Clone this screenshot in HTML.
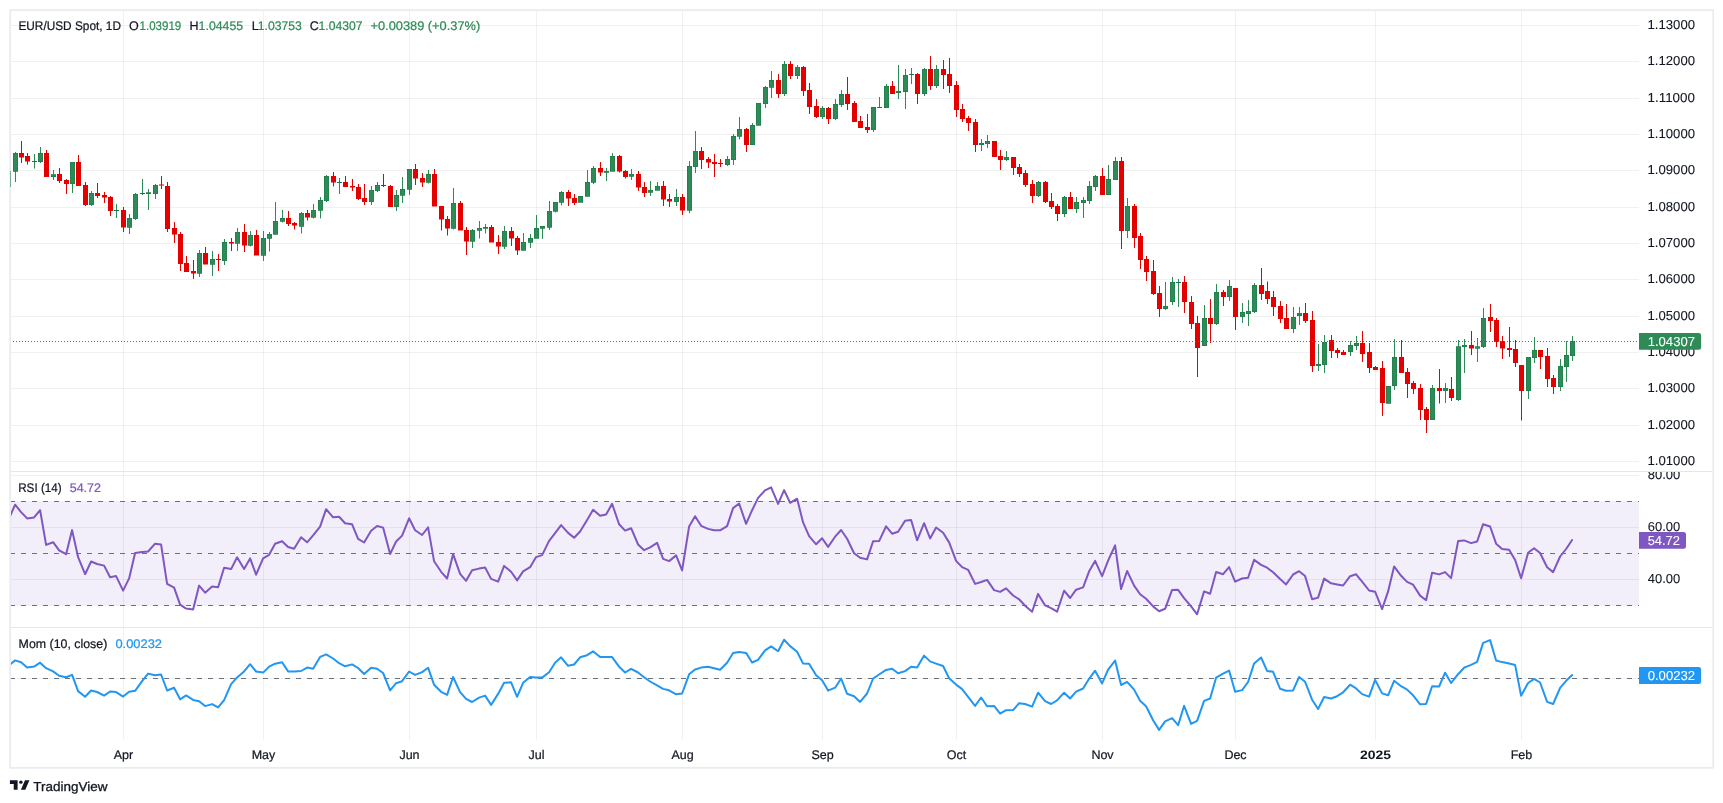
<!DOCTYPE html>
<html lang="en"><head><meta charset="utf-8"><title>EUR/USD Spot 1D - TradingView</title>
<style>html,body{margin:0;padding:0;background:#fff;}body{width:1723px;height:803px;overflow:hidden;}svg{display:block;will-change:transform;-webkit-font-smoothing:antialiased}</style>
</head><body>
<svg width="1723" height="803" viewBox="0 0 1723 803" font-family='"Liberation Sans", Arial, sans-serif' shape-rendering="crispEdges">
<rect x="0" y="0" width="1723" height="803" fill="#ffffff"/>
<rect x="11" y="501" width="1628" height="104.5" fill="#f2eefa"/>
<g fill="rgba(40,50,50,0.065)">
<rect x="11" y="25" width="1628" height="1"/>
<rect x="11" y="61" width="1628" height="1"/>
<rect x="11" y="98" width="1628" height="1"/>
<rect x="11" y="134" width="1628" height="1"/>
<rect x="11" y="170" width="1628" height="1"/>
<rect x="11" y="207" width="1628" height="1"/>
<rect x="11" y="243" width="1628" height="1"/>
<rect x="11" y="279" width="1628" height="1"/>
<rect x="11" y="316" width="1628" height="1"/>
<rect x="11" y="352" width="1628" height="1"/>
<rect x="11" y="388" width="1628" height="1"/>
<rect x="11" y="425" width="1628" height="1"/>
<rect x="11" y="461" width="1628" height="1"/>
<rect x="11" y="527" width="1628" height="1"/>
<rect x="11" y="579" width="1628" height="1"/>
<rect x="11" y="475" width="1628" height="1"/>
<rect x="11" y="678" width="1628" height="1"/>
<rect x="123" y="11" width="1" height="729"/>
<rect x="263" y="11" width="1" height="729"/>
<rect x="409" y="11" width="1" height="729"/>
<rect x="536" y="11" width="1" height="729"/>
<rect x="682" y="11" width="1" height="729"/>
<rect x="822" y="11" width="1" height="729"/>
<rect x="956" y="11" width="1" height="729"/>
<rect x="1102" y="11" width="1" height="729"/>
<rect x="1235" y="11" width="1" height="729"/>
<rect x="1375" y="11" width="1" height="729"/>
<rect x="1521" y="11" width="1" height="729"/>
</g>
<rect x="11" y="471" width="1701" height="1" fill="#e3e6ee"/>
<rect x="11" y="627" width="1701" height="1" fill="#e3e6ee"/>
<g shape-rendering="geometricPrecision">
<path fill="#2e8b57" d="M15 152.0h1V153.0h2V171.5h-2V182.0h-1V171.5h-2V153.0h2Z"/>
<rect x="13.25" y="153.25" width="4.5" height="18.0" fill="none" stroke="#177a46" stroke-width="0.5"/>
<path fill="#e50000" d="M21 141.0h1V153.0h2V157.5h-2V163.0h-1V157.5h-2V153.0h2Z"/>
<path fill="#e50000" d="M27 153.0h1V156.0h2V161.5h-2V164.5h-1V161.5h-2V156.0h2Z"/>
<path fill="#2e8b57" d="M34 154.0h1V161.0h2V162.0h-2V168.5h-1V162.0h-2V161.0h2Z"/>
<rect x="32.25" y="161.25" width="4.5" height="0.5" fill="none" stroke="#177a46" stroke-width="0.5"/>
<path fill="#2e8b57" d="M40 147.0h1V153.0h2V162.0h-2V163.0h-1V162.0h-2V153.0h2Z"/>
<rect x="38.25" y="153.25" width="4.5" height="8.5" fill="none" stroke="#177a46" stroke-width="0.5"/>
<path fill="#e50000" d="M46 150.0h1V153.0h2V177.0h-2V177.0h-1V177.0h-2V153.0h2Z"/>
<path fill="#2e8b57" d="M53 170.0h1V174.5h2V177.0h-2V180.0h-1V177.0h-2V174.5h2Z"/>
<rect x="51.25" y="174.75" width="4.5" height="2.0" fill="none" stroke="#177a46" stroke-width="0.5"/>
<path fill="#e50000" d="M59 168.0h1V174.0h2V181.0h-2V183.0h-1V181.0h-2V174.0h2Z"/>
<path fill="#e50000" d="M66 179.0h1V180.0h2V184.0h-2V194.0h-1V184.0h-2V180.0h2Z"/>
<path fill="#2e8b57" d="M72 162.0h1V162.0h2V184.0h-2V193.0h-1V184.0h-2V162.0h2Z"/>
<rect x="70.25" y="162.25" width="4.5" height="21.5" fill="none" stroke="#177a46" stroke-width="0.5"/>
<path fill="#e50000" d="M78 155.0h1V162.0h2V186.0h-2V186.0h-1V186.0h-2V162.0h2Z"/>
<path fill="#e50000" d="M85 182.0h1V185.0h2V205.0h-2V206.0h-1V205.0h-2V185.0h2Z"/>
<path fill="#2e8b57" d="M91 191.0h1V193.0h2V205.0h-2V206.0h-1V205.0h-2V193.0h2Z"/>
<rect x="89.25" y="193.25" width="4.5" height="11.5" fill="none" stroke="#177a46" stroke-width="0.5"/>
<path fill="#e50000" d="M97 183.0h1V193.0h2V196.0h-2V198.0h-1V196.0h-2V193.0h2Z"/>
<path fill="#e50000" d="M104 192.0h1V195.0h2V197.5h-2V203.0h-1V197.5h-2V195.0h2Z"/>
<path fill="#e50000" d="M110 196.0h1V197.0h2V211.0h-2V216.0h-1V211.0h-2V197.0h2Z"/>
<path fill="#2e8b57" d="M116 204.0h1V210.0h2V211.0h-2V218.0h-1V211.0h-2V210.0h2Z"/>
<rect x="114.25" y="210.25" width="4.5" height="0.5" fill="none" stroke="#177a46" stroke-width="0.5"/>
<path fill="#e50000" d="M123 207.0h1V210.0h2V227.5h-2V232.0h-1V227.5h-2V210.0h2Z"/>
<path fill="#2e8b57" d="M129 214.0h1V218.0h2V227.5h-2V234.0h-1V227.5h-2V218.0h2Z"/>
<rect x="127.25" y="218.25" width="4.5" height="9.0" fill="none" stroke="#177a46" stroke-width="0.5"/>
<path fill="#2e8b57" d="M135 193.0h1V194.0h2V219.0h-2V220.0h-1V219.0h-2V194.0h2Z"/>
<rect x="133.25" y="194.25" width="4.5" height="24.5" fill="none" stroke="#177a46" stroke-width="0.5"/>
<path fill="#2e8b57" d="M142 179.0h1V193.0h2V194.0h-2V195.0h-1V194.0h-2V193.0h2Z"/>
<rect x="140.25" y="193.25" width="4.5" height="0.5" fill="none" stroke="#177a46" stroke-width="0.5"/>
<path fill="#2e8b57" d="M148 189.0h1V192.5h2V194.0h-2V210.0h-1V194.0h-2V192.5h2Z"/>
<rect x="146.25" y="192.75" width="4.5" height="1.0" fill="none" stroke="#177a46" stroke-width="0.5"/>
<path fill="#2e8b57" d="M155 184.0h1V185.0h2V194.0h-2V199.0h-1V194.0h-2V185.0h2Z"/>
<rect x="153.25" y="185.25" width="4.5" height="8.5" fill="none" stroke="#177a46" stroke-width="0.5"/>
<path fill="#e50000" d="M161 176.0h1V184.5h2V185.5h-2V189.0h-1V185.5h-2V184.5h2Z"/>
<path fill="#e50000" d="M167 182.0h1V186.0h2V229.0h-2V232.0h-1V229.0h-2V186.0h2Z"/>
<path fill="#e50000" d="M174 222.0h1V228.0h2V234.5h-2V243.0h-1V234.5h-2V228.0h2Z"/>
<path fill="#e50000" d="M180 232.0h1V234.0h2V264.0h-2V271.0h-1V264.0h-2V234.0h2Z"/>
<path fill="#e50000" d="M186 256.0h1V263.0h2V272.0h-2V272.0h-1V272.0h-2V263.0h2Z"/>
<path fill="#e50000" d="M193 260.0h1V271.0h2V273.5h-2V279.0h-1V273.5h-2V271.0h2Z"/>
<path fill="#2e8b57" d="M199 250.0h1V253.0h2V273.5h-2V277.0h-1V273.5h-2V253.0h2Z"/>
<rect x="197.25" y="253.25" width="4.5" height="20.0" fill="none" stroke="#177a46" stroke-width="0.5"/>
<path fill="#e50000" d="M205 247.0h1V253.0h2V264.5h-2V264.5h-1V264.5h-2V253.0h2Z"/>
<path fill="#2e8b57" d="M212 251.0h1V259.0h2V264.5h-2V276.0h-1V264.5h-2V259.0h2Z"/>
<rect x="210.25" y="259.25" width="4.5" height="5.0" fill="none" stroke="#177a46" stroke-width="0.5"/>
<path fill="#e50000" d="M218 254.0h1V259.0h2V260.0h-2V271.0h-1V260.0h-2V259.0h2Z"/>
<path fill="#2e8b57" d="M224 239.0h1V242.0h2V261.0h-2V265.0h-1V261.0h-2V242.0h2Z"/>
<rect x="222.25" y="242.25" width="4.5" height="18.5" fill="none" stroke="#177a46" stroke-width="0.5"/>
<path fill="#e50000" d="M231 238.0h1V242.0h2V243.5h-2V251.0h-1V243.5h-2V242.0h2Z"/>
<path fill="#2e8b57" d="M237 228.0h1V232.0h2V243.5h-2V251.0h-1V243.5h-2V232.0h2Z"/>
<rect x="235.25" y="232.25" width="4.5" height="11.0" fill="none" stroke="#177a46" stroke-width="0.5"/>
<path fill="#e50000" d="M244 224.0h1V232.0h2V245.5h-2V252.0h-1V245.5h-2V232.0h2Z"/>
<path fill="#2e8b57" d="M250 231.0h1V235.0h2V245.5h-2V246.5h-1V245.5h-2V235.0h2Z"/>
<rect x="248.25" y="235.25" width="4.5" height="10.0" fill="none" stroke="#177a46" stroke-width="0.5"/>
<path fill="#e50000" d="M256 230.0h1V235.0h2V255.5h-2V255.5h-1V255.5h-2V235.0h2Z"/>
<path fill="#2e8b57" d="M263 231.0h1V238.0h2V255.5h-2V261.0h-1V255.5h-2V238.0h2Z"/>
<rect x="261.25" y="238.25" width="4.5" height="17.0" fill="none" stroke="#177a46" stroke-width="0.5"/>
<path fill="#2e8b57" d="M269 232.0h1V234.0h2V238.5h-2V251.5h-1V238.5h-2V234.0h2Z"/>
<rect x="267.25" y="234.25" width="4.5" height="4.0" fill="none" stroke="#177a46" stroke-width="0.5"/>
<path fill="#2e8b57" d="M275 202.0h1V221.0h2V234.5h-2V234.5h-1V234.5h-2V221.0h2Z"/>
<rect x="273.25" y="221.25" width="4.5" height="13.0" fill="none" stroke="#177a46" stroke-width="0.5"/>
<path fill="#2e8b57" d="M282 210.0h1V218.0h2V221.5h-2V222.5h-1V221.5h-2V218.0h2Z"/>
<rect x="280.25" y="218.25" width="4.5" height="3.0" fill="none" stroke="#177a46" stroke-width="0.5"/>
<path fill="#e50000" d="M288 211.0h1V218.0h2V224.0h-2V226.0h-1V224.0h-2V218.0h2Z"/>
<path fill="#e50000" d="M294 222.0h1V223.0h2V225.5h-2V229.5h-1V225.5h-2V223.0h2Z"/>
<path fill="#2e8b57" d="M301 212.0h1V213.0h2V226.5h-2V233.5h-1V226.5h-2V213.0h2Z"/>
<rect x="299.25" y="213.25" width="4.5" height="13.0" fill="none" stroke="#177a46" stroke-width="0.5"/>
<path fill="#e50000" d="M307 210.0h1V213.0h2V217.5h-2V220.5h-1V217.5h-2V213.0h2Z"/>
<path fill="#2e8b57" d="M313 204.0h1V210.0h2V217.5h-2V218.5h-1V217.5h-2V210.0h2Z"/>
<rect x="311.25" y="210.25" width="4.5" height="7.0" fill="none" stroke="#177a46" stroke-width="0.5"/>
<path fill="#2e8b57" d="M320 197.0h1V200.0h2V210.5h-2V218.5h-1V210.5h-2V200.0h2Z"/>
<rect x="318.25" y="200.25" width="4.5" height="10.0" fill="none" stroke="#177a46" stroke-width="0.5"/>
<path fill="#2e8b57" d="M326 175.0h1V176.0h2V201.0h-2V202.0h-1V201.0h-2V176.0h2Z"/>
<rect x="324.25" y="176.25" width="4.5" height="24.5" fill="none" stroke="#177a46" stroke-width="0.5"/>
<path fill="#e50000" d="M333 172.0h1V176.0h2V182.5h-2V186.5h-1V182.5h-2V176.0h2Z"/>
<path fill="#2e8b57" d="M339 178.0h1V182.0h2V183.0h-2V194.0h-1V183.0h-2V182.0h2Z"/>
<rect x="337.25" y="182.25" width="4.5" height="0.5" fill="none" stroke="#177a46" stroke-width="0.5"/>
<path fill="#e50000" d="M345 176.0h1V182.0h2V187.0h-2V187.0h-1V187.0h-2V182.0h2Z"/>
<path fill="#e50000" d="M352 179.0h1V186.0h2V187.5h-2V191.0h-1V187.5h-2V186.0h2Z"/>
<path fill="#e50000" d="M358 184.0h1V187.0h2V199.0h-2V200.0h-1V199.0h-2V187.0h2Z"/>
<path fill="#e50000" d="M364 184.0h1V198.0h2V202.0h-2V205.0h-1V202.0h-2V198.0h2Z"/>
<path fill="#2e8b57" d="M371 186.0h1V190.0h2V202.0h-2V205.0h-1V202.0h-2V190.0h2Z"/>
<rect x="369.25" y="190.25" width="4.5" height="11.5" fill="none" stroke="#177a46" stroke-width="0.5"/>
<path fill="#2e8b57" d="M377 182.0h1V185.0h2V191.0h-2V192.0h-1V191.0h-2V185.0h2Z"/>
<rect x="375.25" y="185.25" width="4.5" height="5.5" fill="none" stroke="#177a46" stroke-width="0.5"/>
<path fill="#e50000" d="M383 174.0h1V185.0h2V186.0h-2V187.0h-1V186.0h-2V185.0h2Z"/>
<path fill="#e50000" d="M390 185.0h1V186.0h2V207.0h-2V207.0h-1V207.0h-2V186.0h2Z"/>
<path fill="#2e8b57" d="M396 190.0h1V195.0h2V207.0h-2V211.0h-1V207.0h-2V195.0h2Z"/>
<rect x="394.25" y="195.25" width="4.5" height="11.5" fill="none" stroke="#177a46" stroke-width="0.5"/>
<path fill="#2e8b57" d="M402 177.0h1V189.0h2V195.5h-2V203.0h-1V195.5h-2V189.0h2Z"/>
<rect x="400.25" y="189.25" width="4.5" height="6.0" fill="none" stroke="#177a46" stroke-width="0.5"/>
<path fill="#2e8b57" d="M409 169.0h1V169.0h2V189.5h-2V195.0h-1V189.5h-2V169.0h2Z"/>
<rect x="407.25" y="169.25" width="4.5" height="20.0" fill="none" stroke="#177a46" stroke-width="0.5"/>
<path fill="#e50000" d="M415 164.0h1V169.0h2V178.5h-2V185.0h-1V178.5h-2V169.0h2Z"/>
<path fill="#e50000" d="M422 173.0h1V178.0h2V182.5h-2V187.0h-1V182.5h-2V178.0h2Z"/>
<path fill="#2e8b57" d="M428 170.0h1V174.0h2V182.5h-2V183.5h-1V182.5h-2V174.0h2Z"/>
<rect x="426.25" y="174.25" width="4.5" height="8.0" fill="none" stroke="#177a46" stroke-width="0.5"/>
<path fill="#e50000" d="M434 169.0h1V174.0h2V206.5h-2V206.5h-1V206.5h-2V174.0h2Z"/>
<path fill="#e50000" d="M441 206.0h1V206.0h2V219.5h-2V230.5h-1V219.5h-2V206.0h2Z"/>
<path fill="#e50000" d="M447 216.0h1V219.0h2V228.5h-2V235.5h-1V228.5h-2V219.0h2Z"/>
<path fill="#2e8b57" d="M453 188.0h1V203.0h2V228.5h-2V229.5h-1V228.5h-2V203.0h2Z"/>
<rect x="451.25" y="203.25" width="4.5" height="25.0" fill="none" stroke="#177a46" stroke-width="0.5"/>
<path fill="#e50000" d="M460 201.0h1V203.0h2V230.5h-2V230.5h-1V230.5h-2V203.0h2Z"/>
<path fill="#e50000" d="M466 227.0h1V230.0h2V241.5h-2V255.0h-1V241.5h-2V230.0h2Z"/>
<path fill="#2e8b57" d="M472 229.0h1V230.0h2V241.5h-2V248.0h-1V241.5h-2V230.0h2Z"/>
<rect x="470.25" y="230.25" width="4.5" height="11.0" fill="none" stroke="#177a46" stroke-width="0.5"/>
<path fill="#2e8b57" d="M479 221.0h1V228.0h2V230.5h-2V238.5h-1V230.5h-2V228.0h2Z"/>
<rect x="477.25" y="228.25" width="4.5" height="2.0" fill="none" stroke="#177a46" stroke-width="0.5"/>
<path fill="#2e8b57" d="M485 224.0h1V227.0h2V228.5h-2V233.5h-1V228.5h-2V227.0h2Z"/>
<rect x="483.25" y="227.25" width="4.5" height="1.0" fill="none" stroke="#177a46" stroke-width="0.5"/>
<path fill="#e50000" d="M491 225.0h1V227.0h2V242.5h-2V242.5h-1V242.5h-2V227.0h2Z"/>
<path fill="#e50000" d="M498 235.0h1V242.0h2V246.5h-2V254.0h-1V246.5h-2V242.0h2Z"/>
<path fill="#2e8b57" d="M504 226.0h1V231.0h2V246.5h-2V249.0h-1V246.5h-2V231.0h2Z"/>
<rect x="502.25" y="231.25" width="4.5" height="15.0" fill="none" stroke="#177a46" stroke-width="0.5"/>
<path fill="#e50000" d="M511 227.0h1V231.0h2V238.5h-2V246.0h-1V238.5h-2V231.0h2Z"/>
<path fill="#e50000" d="M517 236.0h1V238.0h2V250.5h-2V255.0h-1V250.5h-2V238.0h2Z"/>
<path fill="#2e8b57" d="M523 233.0h1V242.0h2V250.5h-2V250.5h-1V250.5h-2V242.0h2Z"/>
<rect x="521.25" y="242.25" width="4.5" height="8.0" fill="none" stroke="#177a46" stroke-width="0.5"/>
<path fill="#2e8b57" d="M530 234.0h1V238.0h2V242.5h-2V248.0h-1V242.5h-2V238.0h2Z"/>
<rect x="528.25" y="238.25" width="4.5" height="4.0" fill="none" stroke="#177a46" stroke-width="0.5"/>
<path fill="#2e8b57" d="M536 215.0h1V228.0h2V238.5h-2V238.5h-1V238.5h-2V228.0h2Z"/>
<rect x="534.25" y="228.25" width="4.5" height="10.0" fill="none" stroke="#177a46" stroke-width="0.5"/>
<path fill="#2e8b57" d="M542 226.0h1V226.0h2V228.5h-2V239.0h-1V228.5h-2V226.0h2Z"/>
<rect x="540.25" y="226.25" width="4.5" height="2.0" fill="none" stroke="#177a46" stroke-width="0.5"/>
<path fill="#2e8b57" d="M549 201.0h1V211.0h2V227.5h-2V230.0h-1V227.5h-2V211.0h2Z"/>
<rect x="547.25" y="211.25" width="4.5" height="16.0" fill="none" stroke="#177a46" stroke-width="0.5"/>
<path fill="#2e8b57" d="M555 202.0h1V202.0h2V211.5h-2V212.5h-1V211.5h-2V202.0h2Z"/>
<rect x="553.25" y="202.25" width="4.5" height="9.0" fill="none" stroke="#177a46" stroke-width="0.5"/>
<path fill="#2e8b57" d="M561 191.0h1V192.0h2V202.5h-2V205.5h-1V202.5h-2V192.0h2Z"/>
<rect x="559.25" y="192.25" width="4.5" height="10.0" fill="none" stroke="#177a46" stroke-width="0.5"/>
<path fill="#e50000" d="M568 190.0h1V192.0h2V198.5h-2V206.0h-1V198.5h-2V192.0h2Z"/>
<path fill="#e50000" d="M574 194.0h1V198.0h2V203.0h-2V205.0h-1V203.0h-2V198.0h2Z"/>
<path fill="#2e8b57" d="M580 196.0h1V196.0h2V202.5h-2V202.5h-1V202.5h-2V196.0h2Z"/>
<rect x="578.25" y="196.25" width="4.5" height="6.0" fill="none" stroke="#177a46" stroke-width="0.5"/>
<path fill="#2e8b57" d="M587 170.0h1V182.0h2V196.5h-2V196.5h-1V196.5h-2V182.0h2Z"/>
<rect x="585.25" y="182.25" width="4.5" height="14.0" fill="none" stroke="#177a46" stroke-width="0.5"/>
<path fill="#2e8b57" d="M593 166.0h1V168.0h2V182.5h-2V184.0h-1V182.5h-2V168.0h2Z"/>
<rect x="591.25" y="168.25" width="4.5" height="14.0" fill="none" stroke="#177a46" stroke-width="0.5"/>
<path fill="#e50000" d="M600 162.0h1V168.0h2V172.5h-2V176.0h-1V172.5h-2V168.0h2Z"/>
<path fill="#2e8b57" d="M606 168.0h1V171.0h2V172.5h-2V181.0h-1V172.5h-2V171.0h2Z"/>
<rect x="604.25" y="171.25" width="4.5" height="1.0" fill="none" stroke="#177a46" stroke-width="0.5"/>
<path fill="#2e8b57" d="M612 153.0h1V156.0h2V171.5h-2V171.5h-1V171.5h-2V156.0h2Z"/>
<rect x="610.25" y="156.25" width="4.5" height="15.0" fill="none" stroke="#177a46" stroke-width="0.5"/>
<path fill="#e50000" d="M619 155.0h1V156.0h2V171.5h-2V172.5h-1V171.5h-2V156.0h2Z"/>
<path fill="#e50000" d="M625 170.0h1V171.0h2V177.0h-2V178.5h-1V177.0h-2V171.0h2Z"/>
<path fill="#2e8b57" d="M631 169.0h1V174.0h2V176.5h-2V180.0h-1V176.5h-2V174.0h2Z"/>
<rect x="629.25" y="174.25" width="4.5" height="2.0" fill="none" stroke="#177a46" stroke-width="0.5"/>
<path fill="#e50000" d="M638 171.0h1V174.0h2V187.5h-2V191.0h-1V187.5h-2V174.0h2Z"/>
<path fill="#e50000" d="M644 182.0h1V187.0h2V193.0h-2V197.0h-1V193.0h-2V187.0h2Z"/>
<path fill="#2e8b57" d="M650 181.0h1V190.0h2V192.5h-2V196.0h-1V192.5h-2V190.0h2Z"/>
<rect x="648.25" y="190.25" width="4.5" height="2.0" fill="none" stroke="#177a46" stroke-width="0.5"/>
<path fill="#2e8b57" d="M657 182.0h1V186.0h2V190.5h-2V190.5h-1V190.5h-2V186.0h2Z"/>
<rect x="655.25" y="186.25" width="4.5" height="4.0" fill="none" stroke="#177a46" stroke-width="0.5"/>
<path fill="#e50000" d="M663 181.0h1V186.0h2V199.5h-2V206.0h-1V199.5h-2V186.0h2Z"/>
<path fill="#e50000" d="M669 194.0h1V199.0h2V201.5h-2V207.0h-1V201.5h-2V199.0h2Z"/>
<path fill="#2e8b57" d="M676 189.0h1V197.0h2V202.0h-2V206.0h-1V202.0h-2V197.0h2Z"/>
<rect x="674.25" y="197.25" width="4.5" height="4.5" fill="none" stroke="#177a46" stroke-width="0.5"/>
<path fill="#e50000" d="M682 194.0h1V197.0h2V210.5h-2V215.0h-1V210.5h-2V197.0h2Z"/>
<path fill="#2e8b57" d="M689 161.0h1V166.0h2V210.5h-2V213.0h-1V210.5h-2V166.0h2Z"/>
<rect x="687.25" y="166.25" width="4.5" height="44.0" fill="none" stroke="#177a46" stroke-width="0.5"/>
<path fill="#2e8b57" d="M695 131.0h1V151.0h2V167.0h-2V173.0h-1V167.0h-2V151.0h2Z"/>
<rect x="693.25" y="151.25" width="4.5" height="15.5" fill="none" stroke="#177a46" stroke-width="0.5"/>
<path fill="#e50000" d="M701 147.0h1V151.0h2V160.0h-2V169.0h-1V160.0h-2V151.0h2Z"/>
<path fill="#e50000" d="M708 157.0h1V159.0h2V162.5h-2V168.0h-1V162.5h-2V159.0h2Z"/>
<path fill="#e50000" d="M714 154.0h1V162.0h2V164.0h-2V177.0h-1V164.0h-2V162.0h2Z"/>
<path fill="#e50000" d="M720 159.0h1V163.0h2V164.0h-2V167.0h-1V164.0h-2V163.0h2Z"/>
<path fill="#2e8b57" d="M727 156.0h1V159.0h2V165.0h-2V166.0h-1V165.0h-2V159.0h2Z"/>
<rect x="725.25" y="159.25" width="4.5" height="5.5" fill="none" stroke="#177a46" stroke-width="0.5"/>
<path fill="#2e8b57" d="M733 134.0h1V136.0h2V160.0h-2V165.0h-1V160.0h-2V136.0h2Z"/>
<rect x="731.25" y="136.25" width="4.5" height="23.5" fill="none" stroke="#177a46" stroke-width="0.5"/>
<path fill="#2e8b57" d="M739 117.0h1V129.0h2V136.5h-2V139.5h-1V136.5h-2V129.0h2Z"/>
<rect x="737.25" y="129.25" width="4.5" height="7.0" fill="none" stroke="#177a46" stroke-width="0.5"/>
<path fill="#e50000" d="M746 128.0h1V129.0h2V145.0h-2V152.0h-1V145.0h-2V129.0h2Z"/>
<path fill="#2e8b57" d="M752 123.0h1V125.0h2V145.0h-2V145.0h-1V145.0h-2V125.0h2Z"/>
<rect x="750.25" y="125.25" width="4.5" height="19.5" fill="none" stroke="#177a46" stroke-width="0.5"/>
<path fill="#2e8b57" d="M758 103.0h1V103.0h2V125.5h-2V125.5h-1V125.5h-2V103.0h2Z"/>
<rect x="756.25" y="103.25" width="4.5" height="22.0" fill="none" stroke="#177a46" stroke-width="0.5"/>
<path fill="#2e8b57" d="M765 86.0h1V87.0h2V104.0h-2V108.0h-1V104.0h-2V87.0h2Z"/>
<rect x="763.25" y="87.25" width="4.5" height="16.5" fill="none" stroke="#177a46" stroke-width="0.5"/>
<path fill="#2e8b57" d="M771 71.0h1V80.0h2V87.5h-2V98.0h-1V87.5h-2V80.0h2Z"/>
<rect x="769.25" y="80.25" width="4.5" height="7.0" fill="none" stroke="#177a46" stroke-width="0.5"/>
<path fill="#e50000" d="M778 74.0h1V80.0h2V94.0h-2V98.0h-1V94.0h-2V80.0h2Z"/>
<path fill="#2e8b57" d="M784 61.0h1V64.0h2V94.0h-2V96.0h-1V94.0h-2V64.0h2Z"/>
<rect x="782.25" y="64.25" width="4.5" height="29.5" fill="none" stroke="#177a46" stroke-width="0.5"/>
<path fill="#e50000" d="M790 61.0h1V64.0h2V76.0h-2V79.0h-1V76.0h-2V64.0h2Z"/>
<path fill="#2e8b57" d="M797 65.0h1V67.0h2V76.0h-2V79.0h-1V76.0h-2V67.0h2Z"/>
<rect x="795.25" y="67.25" width="4.5" height="8.5" fill="none" stroke="#177a46" stroke-width="0.5"/>
<path fill="#e50000" d="M803 66.0h1V67.0h2V91.0h-2V96.0h-1V91.0h-2V67.0h2Z"/>
<path fill="#e50000" d="M809 83.0h1V90.0h2V107.0h-2V114.0h-1V107.0h-2V90.0h2Z"/>
<path fill="#e50000" d="M816 99.0h1V106.0h2V117.0h-2V118.0h-1V117.0h-2V106.0h2Z"/>
<path fill="#2e8b57" d="M822 106.0h1V108.0h2V117.0h-2V119.0h-1V117.0h-2V108.0h2Z"/>
<rect x="820.25" y="108.25" width="4.5" height="8.5" fill="none" stroke="#177a46" stroke-width="0.5"/>
<path fill="#e50000" d="M828 107.0h1V108.0h2V119.0h-2V124.0h-1V119.0h-2V108.0h2Z"/>
<path fill="#2e8b57" d="M835 99.0h1V104.0h2V119.0h-2V120.0h-1V119.0h-2V104.0h2Z"/>
<rect x="833.25" y="104.25" width="4.5" height="14.5" fill="none" stroke="#177a46" stroke-width="0.5"/>
<path fill="#2e8b57" d="M841 90.0h1V94.0h2V105.0h-2V107.0h-1V105.0h-2V94.0h2Z"/>
<rect x="839.25" y="94.25" width="4.5" height="10.5" fill="none" stroke="#177a46" stroke-width="0.5"/>
<path fill="#e50000" d="M847 77.0h1V94.0h2V104.0h-2V110.0h-1V104.0h-2V94.0h2Z"/>
<path fill="#e50000" d="M854 101.0h1V103.0h2V122.0h-2V122.0h-1V122.0h-2V103.0h2Z"/>
<path fill="#e50000" d="M860 116.0h1V121.0h2V128.0h-2V128.0h-1V128.0h-2V121.0h2Z"/>
<path fill="#e50000" d="M867 114.0h1V127.0h2V130.0h-2V133.0h-1V130.0h-2V127.0h2Z"/>
<path fill="#2e8b57" d="M873 107.0h1V107.0h2V130.0h-2V132.0h-1V130.0h-2V107.0h2Z"/>
<rect x="871.25" y="107.25" width="4.5" height="22.5" fill="none" stroke="#177a46" stroke-width="0.5"/>
<path fill="#2e8b57" d="M879 97.0h1V107.0h2V108.0h-2V108.0h-1V108.0h-2V107.0h2Z"/>
<rect x="877.25" y="107.25" width="4.5" height="0.5" fill="none" stroke="#177a46" stroke-width="0.5"/>
<path fill="#2e8b57" d="M886 84.0h1V86.0h2V108.0h-2V108.0h-1V108.0h-2V86.0h2Z"/>
<rect x="884.25" y="86.25" width="4.5" height="21.5" fill="none" stroke="#177a46" stroke-width="0.5"/>
<path fill="#e50000" d="M892 81.0h1V86.0h2V94.0h-2V94.0h-1V94.0h-2V86.0h2Z"/>
<path fill="#2e8b57" d="M898 65.0h1V91.0h2V93.0h-2V99.0h-1V93.0h-2V91.0h2Z"/>
<rect x="896.25" y="91.25" width="4.5" height="1.5" fill="none" stroke="#177a46" stroke-width="0.5"/>
<path fill="#2e8b57" d="M905 69.0h1V75.0h2V92.0h-2V109.0h-1V92.0h-2V75.0h2Z"/>
<rect x="903.25" y="75.25" width="4.5" height="16.5" fill="none" stroke="#177a46" stroke-width="0.5"/>
<path fill="#2e8b57" d="M911 68.0h1V74.0h2V75.0h-2V84.0h-1V75.0h-2V74.0h2Z"/>
<rect x="909.25" y="74.25" width="4.5" height="0.5" fill="none" stroke="#177a46" stroke-width="0.5"/>
<path fill="#e50000" d="M917 73.0h1V74.0h2V94.0h-2V104.0h-1V94.0h-2V74.0h2Z"/>
<path fill="#2e8b57" d="M924 68.0h1V69.0h2V94.0h-2V96.0h-1V94.0h-2V69.0h2Z"/>
<rect x="922.25" y="69.25" width="4.5" height="24.5" fill="none" stroke="#177a46" stroke-width="0.5"/>
<path fill="#e50000" d="M930 56.0h1V69.0h2V86.0h-2V90.0h-1V86.0h-2V69.0h2Z"/>
<path fill="#2e8b57" d="M936 65.0h1V69.0h2V86.0h-2V88.0h-1V86.0h-2V69.0h2Z"/>
<rect x="934.25" y="69.25" width="4.5" height="16.5" fill="none" stroke="#177a46" stroke-width="0.5"/>
<path fill="#e50000" d="M943 60.0h1V69.0h2V75.0h-2V89.0h-1V75.0h-2V69.0h2Z"/>
<path fill="#e50000" d="M949 58.0h1V74.0h2V86.0h-2V93.0h-1V86.0h-2V74.0h2Z"/>
<path fill="#e50000" d="M956 81.0h1V85.0h2V110.0h-2V117.0h-1V110.0h-2V85.0h2Z"/>
<path fill="#e50000" d="M962 104.0h1V109.0h2V119.0h-2V122.0h-1V119.0h-2V109.0h2Z"/>
<path fill="#e50000" d="M968 116.0h1V118.0h2V123.0h-2V131.0h-1V123.0h-2V118.0h2Z"/>
<path fill="#e50000" d="M975 119.0h1V122.0h2V145.0h-2V152.0h-1V145.0h-2V122.0h2Z"/>
<path fill="#2e8b57" d="M981 139.0h1V143.0h2V145.0h-2V151.0h-1V145.0h-2V143.0h2Z"/>
<rect x="979.25" y="143.25" width="4.5" height="1.5" fill="none" stroke="#177a46" stroke-width="0.5"/>
<path fill="#2e8b57" d="M987 135.0h1V141.0h2V144.0h-2V148.0h-1V144.0h-2V141.0h2Z"/>
<rect x="985.25" y="141.25" width="4.5" height="2.5" fill="none" stroke="#177a46" stroke-width="0.5"/>
<path fill="#e50000" d="M994 141.0h1V141.0h2V157.0h-2V157.0h-1V157.0h-2V141.0h2Z"/>
<path fill="#e50000" d="M1000 150.0h1V156.0h2V160.0h-2V170.0h-1V160.0h-2V156.0h2Z"/>
<path fill="#2e8b57" d="M1006 151.0h1V157.0h2V160.0h-2V161.0h-1V160.0h-2V157.0h2Z"/>
<rect x="1004.25" y="157.25" width="4.5" height="2.5" fill="none" stroke="#177a46" stroke-width="0.5"/>
<path fill="#e50000" d="M1013 157.0h1V157.0h2V168.0h-2V175.0h-1V168.0h-2V157.0h2Z"/>
<path fill="#e50000" d="M1019 164.0h1V167.0h2V174.0h-2V177.0h-1V174.0h-2V167.0h2Z"/>
<path fill="#e50000" d="M1025 170.0h1V173.0h2V185.0h-2V187.0h-1V185.0h-2V173.0h2Z"/>
<path fill="#e50000" d="M1032 180.0h1V184.0h2V196.0h-2V203.0h-1V196.0h-2V184.0h2Z"/>
<path fill="#2e8b57" d="M1038 181.0h1V182.0h2V196.0h-2V197.0h-1V196.0h-2V182.0h2Z"/>
<rect x="1036.25" y="182.25" width="4.5" height="13.5" fill="none" stroke="#177a46" stroke-width="0.5"/>
<path fill="#e50000" d="M1045 181.0h1V182.0h2V202.0h-2V203.0h-1V202.0h-2V182.0h2Z"/>
<path fill="#e50000" d="M1051 193.0h1V201.0h2V207.0h-2V209.0h-1V207.0h-2V201.0h2Z"/>
<path fill="#e50000" d="M1057 204.0h1V206.0h2V214.0h-2V221.0h-1V214.0h-2V206.0h2Z"/>
<path fill="#2e8b57" d="M1064 196.0h1V197.0h2V214.0h-2V217.0h-1V214.0h-2V197.0h2Z"/>
<rect x="1062.25" y="197.25" width="4.5" height="16.5" fill="none" stroke="#177a46" stroke-width="0.5"/>
<path fill="#e50000" d="M1070 192.0h1V197.0h2V209.0h-2V209.0h-1V209.0h-2V197.0h2Z"/>
<path fill="#2e8b57" d="M1076 197.0h1V202.0h2V209.0h-2V213.0h-1V209.0h-2V202.0h2Z"/>
<rect x="1074.25" y="202.25" width="4.5" height="6.5" fill="none" stroke="#177a46" stroke-width="0.5"/>
<path fill="#2e8b57" d="M1083 197.0h1V200.0h2V203.0h-2V218.0h-1V203.0h-2V200.0h2Z"/>
<rect x="1081.25" y="200.25" width="4.5" height="2.5" fill="none" stroke="#177a46" stroke-width="0.5"/>
<path fill="#2e8b57" d="M1089 181.0h1V186.0h2V201.0h-2V204.0h-1V201.0h-2V186.0h2Z"/>
<rect x="1087.25" y="186.25" width="4.5" height="14.5" fill="none" stroke="#177a46" stroke-width="0.5"/>
<path fill="#2e8b57" d="M1095 175.0h1V176.0h2V187.0h-2V191.0h-1V187.0h-2V176.0h2Z"/>
<rect x="1093.25" y="176.25" width="4.5" height="10.5" fill="none" stroke="#177a46" stroke-width="0.5"/>
<path fill="#e50000" d="M1102 168.0h1V176.0h2V195.0h-2V195.0h-1V195.0h-2V176.0h2Z"/>
<path fill="#2e8b57" d="M1108 165.0h1V179.0h2V195.0h-2V195.0h-1V195.0h-2V179.0h2Z"/>
<rect x="1106.25" y="179.25" width="4.5" height="15.5" fill="none" stroke="#177a46" stroke-width="0.5"/>
<path fill="#2e8b57" d="M1115 157.0h1V161.0h2V180.0h-2V180.0h-1V180.0h-2V161.0h2Z"/>
<rect x="1113.25" y="161.25" width="4.5" height="18.5" fill="none" stroke="#177a46" stroke-width="0.5"/>
<path fill="#e50000" d="M1121 157.0h1V161.0h2V231.0h-2V249.0h-1V231.0h-2V161.0h2Z"/>
<path fill="#2e8b57" d="M1127 198.0h1V206.0h2V231.0h-2V238.0h-1V231.0h-2V206.0h2Z"/>
<rect x="1125.25" y="206.25" width="4.5" height="24.5" fill="none" stroke="#177a46" stroke-width="0.5"/>
<path fill="#e50000" d="M1134 204.0h1V206.0h2V238.0h-2V248.0h-1V238.0h-2V206.0h2Z"/>
<path fill="#e50000" d="M1140 233.0h1V236.0h2V260.0h-2V269.0h-1V260.0h-2V236.0h2Z"/>
<path fill="#e50000" d="M1146 256.0h1V259.0h2V272.0h-2V281.0h-1V272.0h-2V259.0h2Z"/>
<path fill="#e50000" d="M1153 260.0h1V271.0h2V294.0h-2V295.0h-1V294.0h-2V271.0h2Z"/>
<path fill="#e50000" d="M1159 286.0h1V293.0h2V309.0h-2V317.0h-1V309.0h-2V293.0h2Z"/>
<path fill="#2e8b57" d="M1165 282.0h1V306.0h2V309.0h-2V310.0h-1V309.0h-2V306.0h2Z"/>
<rect x="1163.25" y="306.25" width="4.5" height="2.5" fill="none" stroke="#177a46" stroke-width="0.5"/>
<path fill="#2e8b57" d="M1172 277.0h1V282.0h2V302.0h-2V305.0h-1V302.0h-2V282.0h2Z"/>
<rect x="1170.25" y="282.25" width="4.5" height="19.5" fill="none" stroke="#177a46" stroke-width="0.5"/>
<path fill="#2e8b57" d="M1178 279.0h1V282.0h2V283.0h-2V307.0h-1V283.0h-2V282.0h2Z"/>
<rect x="1176.25" y="282.25" width="4.5" height="0.5" fill="none" stroke="#177a46" stroke-width="0.5"/>
<path fill="#e50000" d="M1184 276.0h1V282.0h2V302.0h-2V313.0h-1V302.0h-2V282.0h2Z"/>
<path fill="#e50000" d="M1191 296.0h1V302.0h2V324.0h-2V329.0h-1V324.0h-2V302.0h2Z"/>
<path fill="#e50000" d="M1197 316.0h1V323.0h2V348.0h-2V377.0h-1V348.0h-2V323.0h2Z"/>
<path fill="#2e8b57" d="M1204 305.0h1V318.0h2V346.0h-2V346.0h-1V346.0h-2V318.0h2Z"/>
<rect x="1202.25" y="318.25" width="4.5" height="27.5" fill="none" stroke="#177a46" stroke-width="0.5"/>
<path fill="#e50000" d="M1210 299.0h1V318.0h2V324.0h-2V343.0h-1V324.0h-2V318.0h2Z"/>
<path fill="#2e8b57" d="M1216 284.0h1V292.0h2V324.0h-2V325.0h-1V324.0h-2V292.0h2Z"/>
<rect x="1214.25" y="292.25" width="4.5" height="31.5" fill="none" stroke="#177a46" stroke-width="0.5"/>
<path fill="#e50000" d="M1223 290.0h1V292.0h2V297.0h-2V306.0h-1V297.0h-2V292.0h2Z"/>
<path fill="#2e8b57" d="M1229 280.0h1V286.0h2V297.0h-2V301.0h-1V297.0h-2V286.0h2Z"/>
<rect x="1227.25" y="286.25" width="4.5" height="10.5" fill="none" stroke="#177a46" stroke-width="0.5"/>
<path fill="#e50000" d="M1235 288.0h1V288.0h2V317.0h-2V330.0h-1V317.0h-2V288.0h2Z"/>
<path fill="#2e8b57" d="M1242 303.0h1V312.0h2V317.0h-2V323.0h-1V317.0h-2V312.0h2Z"/>
<rect x="1240.25" y="312.25" width="4.5" height="4.5" fill="none" stroke="#177a46" stroke-width="0.5"/>
<path fill="#2e8b57" d="M1248 300.0h1V311.0h2V314.0h-2V326.0h-1V314.0h-2V311.0h2Z"/>
<rect x="1246.25" y="311.25" width="4.5" height="2.5" fill="none" stroke="#177a46" stroke-width="0.5"/>
<path fill="#2e8b57" d="M1254 283.0h1V285.0h2V312.0h-2V313.0h-1V312.0h-2V285.0h2Z"/>
<rect x="1252.25" y="285.25" width="4.5" height="26.5" fill="none" stroke="#177a46" stroke-width="0.5"/>
<path fill="#e50000" d="M1261 268.0h1V285.0h2V294.0h-2V300.0h-1V294.0h-2V285.0h2Z"/>
<path fill="#e50000" d="M1267 281.5h1V291.0h2V299.0h-2V304.0h-1V299.0h-2V291.0h2Z"/>
<path fill="#e50000" d="M1273 291.0h1V297.0h2V307.0h-2V316.0h-1V307.0h-2V297.0h2Z"/>
<path fill="#e50000" d="M1280 301.0h1V306.0h2V319.0h-2V323.0h-1V319.0h-2V306.0h2Z"/>
<path fill="#e50000" d="M1286 304.0h1V318.0h2V329.0h-2V329.0h-1V329.0h-2V318.0h2Z"/>
<path fill="#2e8b57" d="M1293 307.0h1V317.0h2V329.0h-2V333.0h-1V329.0h-2V317.0h2Z"/>
<rect x="1291.25" y="317.25" width="4.5" height="11.5" fill="none" stroke="#177a46" stroke-width="0.5"/>
<path fill="#2e8b57" d="M1299 307.0h1V313.0h2V316.0h-2V325.0h-1V316.0h-2V313.0h2Z"/>
<rect x="1297.25" y="313.25" width="4.5" height="2.5" fill="none" stroke="#177a46" stroke-width="0.5"/>
<path fill="#e50000" d="M1305 303.0h1V313.0h2V321.0h-2V323.0h-1V321.0h-2V313.0h2Z"/>
<path fill="#e50000" d="M1312 311.0h1V320.0h2V366.0h-2V372.0h-1V366.0h-2V320.0h2Z"/>
<path fill="#2e8b57" d="M1318 344.0h1V364.0h2V366.0h-2V371.0h-1V366.0h-2V364.0h2Z"/>
<rect x="1316.25" y="364.25" width="4.5" height="1.5" fill="none" stroke="#177a46" stroke-width="0.5"/>
<path fill="#2e8b57" d="M1324 335.0h1V342.0h2V365.0h-2V373.0h-1V365.0h-2V342.0h2Z"/>
<rect x="1322.25" y="342.25" width="4.5" height="22.5" fill="none" stroke="#177a46" stroke-width="0.5"/>
<path fill="#e50000" d="M1331 335.0h1V340.0h2V351.0h-2V358.0h-1V351.0h-2V340.0h2Z"/>
<path fill="#e50000" d="M1337 348.0h1V350.0h2V353.0h-2V358.0h-1V353.0h-2V350.0h2Z"/>
<path fill="#e50000" d="M1343 350.0h1V352.0h2V355.0h-2V355.0h-1V355.0h-2V352.0h2Z"/>
<path fill="#2e8b57" d="M1350 341.0h1V345.0h2V352.0h-2V356.0h-1V352.0h-2V345.0h2Z"/>
<rect x="1348.25" y="345.25" width="4.5" height="6.5" fill="none" stroke="#177a46" stroke-width="0.5"/>
<path fill="#2e8b57" d="M1356 336.0h1V343.0h2V346.0h-2V350.0h-1V346.0h-2V343.0h2Z"/>
<rect x="1354.25" y="343.25" width="4.5" height="2.5" fill="none" stroke="#177a46" stroke-width="0.5"/>
<path fill="#e50000" d="M1362 331.0h1V343.0h2V354.0h-2V362.0h-1V354.0h-2V343.0h2Z"/>
<path fill="#e50000" d="M1369 343.0h1V352.0h2V368.0h-2V373.0h-1V368.0h-2V352.0h2Z"/>
<path fill="#e50000" d="M1375 366.0h1V367.0h2V370.0h-2V370.0h-1V370.0h-2V367.0h2Z"/>
<path fill="#e50000" d="M1382 361.0h1V368.0h2V403.0h-2V416.0h-1V403.0h-2V368.0h2Z"/>
<path fill="#2e8b57" d="M1388 386.0h1V386.0h2V403.5h-2V403.5h-1V403.5h-2V386.0h2Z"/>
<rect x="1386.25" y="386.25" width="4.5" height="17.0" fill="none" stroke="#177a46" stroke-width="0.5"/>
<path fill="#2e8b57" d="M1394 339.0h1V357.0h2V386.0h-2V390.0h-1V386.0h-2V357.0h2Z"/>
<rect x="1392.25" y="357.25" width="4.5" height="28.5" fill="none" stroke="#177a46" stroke-width="0.5"/>
<path fill="#e50000" d="M1401 340.0h1V357.0h2V373.0h-2V373.0h-1V373.0h-2V357.0h2Z"/>
<path fill="#e50000" d="M1407 368.0h1V372.0h2V384.0h-2V398.0h-1V384.0h-2V372.0h2Z"/>
<path fill="#e50000" d="M1413 381.0h1V383.0h2V389.0h-2V394.0h-1V389.0h-2V383.0h2Z"/>
<path fill="#e50000" d="M1420 384.0h1V388.0h2V410.0h-2V420.0h-1V410.0h-2V388.0h2Z"/>
<path fill="#e50000" d="M1426 407.0h1V409.0h2V420.0h-2V433.0h-1V420.0h-2V409.0h2Z"/>
<path fill="#2e8b57" d="M1432 385.0h1V388.0h2V420.0h-2V420.0h-1V420.0h-2V388.0h2Z"/>
<rect x="1430.25" y="388.25" width="4.5" height="31.5" fill="none" stroke="#177a46" stroke-width="0.5"/>
<path fill="#e50000" d="M1439 369.0h1V388.0h2V391.0h-2V403.5h-1V391.0h-2V388.0h2Z"/>
<path fill="#2e8b57" d="M1445 383.0h1V388.0h2V391.0h-2V403.0h-1V391.0h-2V388.0h2Z"/>
<rect x="1443.25" y="388.25" width="4.5" height="2.5" fill="none" stroke="#177a46" stroke-width="0.5"/>
<path fill="#e50000" d="M1451 377.0h1V389.0h2V398.0h-2V401.0h-1V398.0h-2V389.0h2Z"/>
<path fill="#2e8b57" d="M1458 340.0h1V346.5h2V400.0h-2V401.0h-1V400.0h-2V346.5h2Z"/>
<rect x="1456.25" y="346.75" width="4.5" height="53.0" fill="none" stroke="#177a46" stroke-width="0.5"/>
<path fill="#2e8b57" d="M1464 339.0h1V345.0h2V347.0h-2V373.0h-1V347.0h-2V345.0h2Z"/>
<rect x="1462.25" y="345.25" width="4.5" height="1.5" fill="none" stroke="#177a46" stroke-width="0.5"/>
<path fill="#e50000" d="M1471 331.0h1V345.0h2V348.5h-2V355.0h-1V348.5h-2V345.0h2Z"/>
<path fill="#2e8b57" d="M1477 338.0h1V346.5h2V348.5h-2V362.0h-1V348.5h-2V346.5h2Z"/>
<rect x="1475.25" y="346.75" width="4.5" height="1.5" fill="none" stroke="#177a46" stroke-width="0.5"/>
<path fill="#2e8b57" d="M1483 308.0h1V318.0h2V347.0h-2V348.0h-1V347.0h-2V318.0h2Z"/>
<rect x="1481.25" y="318.25" width="4.5" height="28.5" fill="none" stroke="#177a46" stroke-width="0.5"/>
<path fill="#e50000" d="M1490 304.0h1V317.0h2V321.0h-2V332.0h-1V321.0h-2V317.0h2Z"/>
<path fill="#e50000" d="M1496 318.0h1V320.0h2V342.0h-2V347.0h-1V342.0h-2V320.0h2Z"/>
<path fill="#e50000" d="M1502 336.0h1V341.0h2V348.5h-2V359.0h-1V348.5h-2V341.0h2Z"/>
<path fill="#e50000" d="M1509 327.0h1V348.0h2V350.0h-2V357.0h-1V350.0h-2V348.0h2Z"/>
<path fill="#e50000" d="M1515 340.0h1V349.0h2V363.0h-2V367.0h-1V363.0h-2V349.0h2Z"/>
<path fill="#e50000" d="M1521 365.0h1V365.0h2V391.0h-2V420.5h-1V391.0h-2V365.0h2Z"/>
<path fill="#2e8b57" d="M1528 357.0h1V357.0h2V391.0h-2V399.0h-1V391.0h-2V357.0h2Z"/>
<rect x="1526.25" y="357.25" width="4.5" height="33.5" fill="none" stroke="#177a46" stroke-width="0.5"/>
<path fill="#2e8b57" d="M1534 337.0h1V350.0h2V358.0h-2V363.0h-1V358.0h-2V350.0h2Z"/>
<rect x="1532.25" y="350.25" width="4.5" height="7.5" fill="none" stroke="#177a46" stroke-width="0.5"/>
<path fill="#e50000" d="M1540 350.0h1V350.0h2V357.0h-2V369.0h-1V357.0h-2V350.0h2Z"/>
<path fill="#e50000" d="M1547 348.0h1V356.0h2V379.0h-2V387.0h-1V379.0h-2V356.0h2Z"/>
<path fill="#e50000" d="M1553 375.0h1V378.0h2V387.0h-2V394.0h-1V387.0h-2V378.0h2Z"/>
<path fill="#2e8b57" d="M1560 359.0h1V366.0h2V387.0h-2V391.0h-1V387.0h-2V366.0h2Z"/>
<rect x="1558.25" y="366.25" width="4.5" height="20.5" fill="none" stroke="#177a46" stroke-width="0.5"/>
<path fill="#2e8b57" d="M1566 341.0h1V355.0h2V367.0h-2V382.0h-1V367.0h-2V355.0h2Z"/>
<rect x="1564.25" y="355.25" width="4.5" height="11.5" fill="none" stroke="#177a46" stroke-width="0.5"/>
<path fill="#2e8b57" d="M1572 336.0h1V341.0h2V356.0h-2V361.0h-1V356.0h-2V341.0h2Z"/>
<rect x="1570.25" y="341.25" width="4.5" height="14.5" fill="none" stroke="#177a46" stroke-width="0.5"/>
</g>
<path d="M10 341.5H1639" stroke="#2e8b57" stroke-width="1" stroke-dasharray="1 2" fill="none"/>
<defs><clipPath id="pc"><rect x="11" y="11" width="1628" height="729"/></clipPath></defs>
<path d="M10 501.5H1639" stroke="#6d707b" stroke-width="1" stroke-dasharray="5 6" fill="none"/>
<path d="M10 553.5H1639" stroke="#6d707b" stroke-width="1" stroke-dasharray="5 6" fill="none"/>
<path d="M10 605.5H1639" stroke="#6d707b" stroke-width="1" stroke-dasharray="5 6" fill="none"/>
<path d="M10 678.5H1639" stroke="#6d707b" stroke-width="1" stroke-dasharray="5 6" fill="none"/>
<path d="M8.1 520.7L15.1 504.7L21.1 512.1L27.1 518.4L34.1 517.4L40.1 510.2L46.1 544.9L53.1 542.2L59.1 550.4L66.1 554.2L72.1 530.1L78.1 557.2L85.1 574.2L91.1 561.5L97.1 564.0L104.1 565.6L110.1 577.3L116.1 576.1L123.1 590.6L129.1 578.4L135.1 552.9L142.1 552.0L148.1 551.5L155.1 543.7L161.1 544.6L167.1 583.8L174.1 587.7L180.1 604.6L186.1 608.6L193.1 609.5L199.1 585.6L205.1 592.7L212.1 586.5L218.1 587.2L224.1 567.7L231.1 569.1L237.1 557.3L244.1 568.9L250.1 558.4L256.1 574.7L263.1 558.3L269.1 554.8L275.1 543.8L282.1 541.3L288.1 547.0L294.1 548.8L301.1 537.2L307.1 542.3L313.1 535.3L320.1 526.6L326.1 509.2L333.1 517.3L339.1 516.7L345.1 523.2L352.1 524.3L358.1 538.8L364.1 542.5L371.1 530.7L377.1 526.0L383.1 527.6L390.1 554.0L396.1 541.5L402.1 535.6L409.1 518.3L415.1 530.2L422.1 535.0L428.1 527.3L434.1 561.3L441.1 571.8L447.1 578.5L453.1 554.1L460.1 573.9L466.1 580.8L472.1 570.3L479.1 568.6L485.1 567.5L491.1 578.9L498.1 581.6L504.1 565.9L511.1 571.7L517.1 580.4L523.1 571.4L530.1 567.2L536.1 557.1L542.1 555.1L549.1 540.9L555.1 533.1L561.1 525.1L568.1 532.9L574.1 537.7L580.1 531.5L587.1 519.9L593.1 509.8L600.1 515.8L606.1 514.6L612.1 503.8L619.1 524.3L625.1 530.6L631.1 528.2L638.1 544.5L644.1 550.2L650.1 547.3L657.1 542.9L663.1 558.9L669.1 561.1L676.1 555.4L682.1 570.4L689.1 526.5L695.1 516.2L701.1 525.8L708.1 528.9L714.1 530.3L720.1 530.3L727.1 526.1L733.1 508.1L739.1 503.5L746.1 523.8L752.1 510.2L758.1 497.9L765.1 490.3L771.1 487.3L778.1 503.9L784.1 490.1L790.1 502.8L797.1 498.7L803.1 522.4L809.1 536.2L816.1 544.3L822.1 538.2L828.1 546.9L835.1 536.7L841.1 530.0L847.1 538.8L854.1 553.3L860.1 557.8L867.1 559.4L873.1 541.2L879.1 541.1L886.1 526.3L892.1 533.7L898.1 531.7L905.1 520.7L911.1 520.0L917.1 540.3L924.1 523.2L930.1 538.4L936.1 527.5L943.1 532.8L949.1 542.4L956.1 560.9L962.1 567.1L968.1 569.8L975.1 583.9L981.1 582.0L987.1 579.9L994.1 590.1L1000.1 591.9L1006.1 588.4L1013.1 595.5L1019.1 599.3L1025.1 605.8L1032.1 611.8L1038.1 593.9L1045.1 605.4L1051.1 608.1L1057.1 611.7L1064.1 590.7L1070.1 598.0L1076.1 589.7L1083.1 587.4L1089.1 571.3L1095.1 560.9L1102.1 576.1L1108.1 560.7L1115.1 545.3L1121.1 589.0L1127.1 571.0L1134.1 585.6L1140.1 594.3L1146.1 598.8L1153.1 606.4L1159.1 611.2L1165.1 608.8L1172.1 589.9L1178.1 589.8L1184.1 598.2L1191.1 606.4L1197.1 614.3L1204.1 591.4L1210.1 593.7L1216.1 572.0L1223.1 574.2L1229.1 567.1L1235.1 581.7L1242.1 578.5L1248.1 577.7L1254.1 559.9L1261.1 564.9L1267.1 567.7L1273.1 572.3L1280.1 579.0L1286.1 584.4L1293.1 574.5L1299.1 571.2L1305.1 576.1L1312.1 599.3L1318.1 597.6L1324.1 578.6L1331.1 583.3L1337.1 584.4L1343.1 585.5L1350.1 576.2L1356.1 574.3L1362.1 581.6L1369.1 590.5L1375.1 591.7L1382.1 609.1L1388.1 591.4L1394.1 566.4L1401.1 575.8L1407.1 581.9L1413.1 584.7L1420.1 595.6L1426.1 600.2L1432.1 572.8L1439.1 574.4L1445.1 572.1L1451.1 578.1L1458.1 541.1L1464.1 540.4L1471.1 543.1L1477.1 541.5L1483.1 524.2L1490.1 526.5L1496.1 543.7L1502.1 548.9L1509.1 549.7L1515.1 559.9L1521.1 578.2L1528.1 552.8L1534.1 548.2L1540.1 553.0L1547.1 567.3L1553.1 572.1L1560.1 556.5L1566.1 549.0L1572.1 540.0" clip-path="url(#pc)" fill="none" stroke="#7e57c2" stroke-width="2" stroke-linejoin="round" stroke-linecap="round" shape-rendering="geometricPrecision"/>
<path d="M8.1 666.0L15.1 660.4L21.1 662.3L27.1 667.5L34.1 666.6L40.1 662.7L46.1 668.2L53.1 671.4L59.1 675.7L66.1 677.2L72.1 674.9L78.1 691.1L85.1 696.7L91.1 690.5L97.1 692.0L104.1 695.6L110.1 691.5L116.1 692.1L123.1 696.6L129.1 691.7L135.1 690.8L142.1 681.2L148.1 673.6L155.1 675.3L161.1 674.5L167.1 690.5L174.1 687.7L180.1 699.3L186.1 695.4L193.1 699.9L199.1 701.2L205.1 706.1L212.1 704.1L218.1 707.4L224.1 700.2L231.1 684.2L237.1 677.4L244.1 671.4L250.1 664.2L256.1 671.5L263.1 672.6L269.1 666.6L275.1 663.7L282.1 662.2L288.1 671.4L294.1 671.4L301.1 671.0L307.1 667.6L313.1 668.7L320.1 656.9L326.1 654.4L333.1 658.5L339.1 663.2L345.1 666.3L352.1 664.4L358.1 668.0L364.1 674.0L371.1 667.7L377.1 668.7L383.1 673.0L390.1 690.3L396.1 683.2L402.1 681.2L409.1 671.5L415.1 674.9L422.1 672.1L428.1 667.7L434.1 684.8L441.1 691.8L447.1 694.9L453.1 677.0L460.1 692.1L466.1 698.8L472.1 702.0L479.1 697.6L485.1 695.6L491.1 704.9L498.1 693.9L504.1 682.8L511.1 682.3L517.1 696.8L523.1 682.8L530.1 677.0L536.1 677.6L542.1 677.6L549.1 672.2L555.1 662.7L561.1 657.3L568.1 665.8L574.1 664.5L580.1 657.3L587.1 655.2L593.1 651.3L600.1 657.0L606.1 657.1L612.1 657.1L619.1 666.7L625.1 672.5L631.1 668.9L638.1 672.5L644.1 677.2L650.1 681.5L657.1 685.4L663.1 688.9L669.1 690.3L676.1 694.3L682.1 693.5L689.1 674.3L695.1 669.5L701.1 667.6L708.1 666.8L714.1 668.3L720.1 669.8L727.1 662.7L733.1 653.0L739.1 652.0L746.1 652.9L752.1 662.5L758.1 659.8L765.1 650.3L771.1 646.4L778.1 651.3L784.1 639.7L790.1 646.1L797.1 651.7L803.1 663.6L809.1 663.7L816.1 675.3L822.1 680.3L828.1 690.6L835.1 687.7L841.1 678.5L847.1 693.8L854.1 696.2L860.1 701.9L867.1 693.5L873.1 678.5L879.1 674.5L886.1 669.9L892.1 668.8L898.1 673.3L905.1 671.1L911.1 666.8L917.1 667.5L924.1 655.6L930.1 661.4L936.1 663.6L943.1 666.0L949.1 678.3L956.1 684.6L962.1 689.1L968.1 696.9L975.1 705.9L981.1 697.5L987.1 706.2L994.1 705.9L1000.1 713.6L1006.1 710.2L1013.1 710.1L1019.1 703.2L1025.1 704.0L1032.1 706.6L1038.1 692.7L1045.1 701.2L1051.1 704.0L1057.1 700.4L1064.1 692.7L1070.1 698.5L1076.1 691.6L1083.1 688.5L1089.1 678.8L1095.1 670.7L1102.1 683.4L1108.1 669.6L1115.1 660.6L1121.1 685.0L1127.1 681.9L1134.1 689.6L1140.1 700.8L1146.1 706.2L1153.1 720.2L1159.1 729.9L1165.1 721.4L1172.1 718.2L1178.1 725.2L1184.1 705.8L1191.1 723.9L1197.1 720.9L1204.1 700.9L1210.1 698.5L1216.1 677.7L1223.1 673.7L1229.1 670.6L1235.1 691.8L1242.1 690.1L1248.1 682.0L1254.1 663.4L1261.1 657.5L1267.1 670.9L1273.1 671.8L1280.1 688.8L1286.1 690.8L1293.1 690.4L1299.1 677.0L1305.1 681.8L1312.1 699.7L1318.1 709.0L1324.1 697.0L1331.1 698.5L1337.1 696.2L1343.1 692.3L1350.1 684.7L1356.1 688.4L1362.1 694.1L1369.1 696.6L1375.1 679.9L1382.1 693.4L1388.1 695.3L1394.1 680.8L1401.1 686.2L1407.1 689.6L1413.1 695.3L1420.1 704.3L1426.1 703.9L1432.1 686.2L1439.1 686.5L1445.1 672.7L1451.1 683.0L1458.1 674.2L1464.1 667.7L1471.1 664.8L1477.1 661.9L1483.1 642.9L1490.1 640.1L1496.1 660.5L1502.1 662.1L1509.1 663.6L1515.1 664.9L1521.1 695.7L1528.1 683.0L1534.1 678.9L1540.1 682.5L1547.1 701.9L1553.1 704.0L1560.1 687.8L1566.1 680.8L1572.1 675.0" clip-path="url(#pc)" fill="none" stroke="#2196f3" stroke-width="2" stroke-linejoin="round" stroke-linecap="round" shape-rendering="geometricPrecision"/>
<g shape-rendering="geometricPrecision" text-rendering="geometricPrecision">
<text x="18.4" y="30" font-size="12.5" fill="#131722" stroke="#131722" stroke-width="0.22" textLength="102.6" lengthAdjust="spacingAndGlyphs">EUR/USD Spot, 1D</text>
<text x="129" y="30" font-size="12.5" fill="#131722" stroke="#131722" stroke-width="0.22">O</text>
<text x="139.6" y="30" font-size="12.5" fill="#2e8b57" stroke="#2e8b57" stroke-width="0.22" textLength="41.6" lengthAdjust="spacingAndGlyphs">1.03919</text>
<text x="189.6" y="30" font-size="12.5" fill="#131722" stroke="#131722" stroke-width="0.22">H</text>
<text x="198.6" y="30" font-size="12.5" fill="#2e8b57" stroke="#2e8b57" stroke-width="0.22" textLength="44.6" lengthAdjust="spacingAndGlyphs">1.04455</text>
<text x="251.8" y="30" font-size="12.5" fill="#131722" stroke="#131722" stroke-width="0.22">L</text>
<text x="257.8" y="30" font-size="12.5" fill="#2e8b57" stroke="#2e8b57" stroke-width="0.22" textLength="44.1" lengthAdjust="spacingAndGlyphs">1.03753</text>
<text x="309.7" y="30" font-size="12.5" fill="#131722" stroke="#131722" stroke-width="0.22">C</text>
<text x="318.5" y="30" font-size="12.5" fill="#2e8b57" stroke="#2e8b57" stroke-width="0.22" textLength="44.0" lengthAdjust="spacingAndGlyphs">1.04307</text>
<text x="370.5" y="30" font-size="12.5" fill="#2e8b57" stroke="#2e8b57" stroke-width="0.22" textLength="109.7" lengthAdjust="spacingAndGlyphs">+0.00389 (+0.37%)</text>
<text x="18.2" y="491.8" font-size="12.5" fill="#131722" stroke="#131722" stroke-width="0.22" textLength="43.5" lengthAdjust="spacingAndGlyphs">RSI (14)</text>
<text x="69.7" y="491.8" font-size="12.5" fill="#7e57c2" stroke="#7e57c2" stroke-width="0.22" textLength="31.3" lengthAdjust="spacingAndGlyphs">54.72</text>
<text x="18.6" y="647.7" font-size="12.5" fill="#131722" stroke="#131722" stroke-width="0.22" textLength="88.7" lengthAdjust="spacingAndGlyphs">Mom (10, close)</text>
<text x="115.4" y="647.7" font-size="12.5" fill="#2196f3" stroke="#2196f3" stroke-width="0.22" textLength="46.6" lengthAdjust="spacingAndGlyphs">0.00232</text>
<text x="1647.5" y="29.0" font-size="13" fill="#131722" stroke="#131722" stroke-width="0.08" textLength="47.5" lengthAdjust="spacingAndGlyphs">1.13000</text>
<text x="1647.5" y="65.0" font-size="13" fill="#131722" stroke="#131722" stroke-width="0.08" textLength="47.5" lengthAdjust="spacingAndGlyphs">1.12000</text>
<text x="1647.5" y="102.0" font-size="13" fill="#131722" stroke="#131722" stroke-width="0.08" textLength="47.5" lengthAdjust="spacingAndGlyphs">1.11000</text>
<text x="1647.5" y="138.0" font-size="13" fill="#131722" stroke="#131722" stroke-width="0.08" textLength="47.5" lengthAdjust="spacingAndGlyphs">1.10000</text>
<text x="1647.5" y="174.0" font-size="13" fill="#131722" stroke="#131722" stroke-width="0.08" textLength="47.5" lengthAdjust="spacingAndGlyphs">1.09000</text>
<text x="1647.5" y="211.0" font-size="13" fill="#131722" stroke="#131722" stroke-width="0.08" textLength="47.5" lengthAdjust="spacingAndGlyphs">1.08000</text>
<text x="1647.5" y="247.0" font-size="13" fill="#131722" stroke="#131722" stroke-width="0.08" textLength="47.5" lengthAdjust="spacingAndGlyphs">1.07000</text>
<text x="1647.5" y="283.0" font-size="13" fill="#131722" stroke="#131722" stroke-width="0.08" textLength="47.5" lengthAdjust="spacingAndGlyphs">1.06000</text>
<text x="1647.5" y="320.0" font-size="13" fill="#131722" stroke="#131722" stroke-width="0.08" textLength="47.5" lengthAdjust="spacingAndGlyphs">1.05000</text>
<text x="1647.5" y="356.0" font-size="13" fill="#131722" stroke="#131722" stroke-width="0.08" textLength="47.5" lengthAdjust="spacingAndGlyphs">1.04000</text>
<text x="1647.5" y="392.0" font-size="13" fill="#131722" stroke="#131722" stroke-width="0.08" textLength="47.5" lengthAdjust="spacingAndGlyphs">1.03000</text>
<text x="1647.5" y="429.0" font-size="13" fill="#131722" stroke="#131722" stroke-width="0.08" textLength="47.5" lengthAdjust="spacingAndGlyphs">1.02000</text>
<text x="1647.5" y="465.0" font-size="13" fill="#131722" stroke="#131722" stroke-width="0.08" textLength="47.5" lengthAdjust="spacingAndGlyphs">1.01000</text>
<clipPath id="rc"><rect x="1640" y="472" width="72" height="155"/></clipPath>
<g clip-path="url(#rc)">
<text x="1647.7" y="479.0" font-size="13" fill="#131722" stroke="#131722" stroke-width="0.08" textLength="32.5" lengthAdjust="spacingAndGlyphs">80.00</text>
</g>
<text x="1647.7" y="531.0" font-size="13" fill="#131722" stroke="#131722" stroke-width="0.08" textLength="32.5" lengthAdjust="spacingAndGlyphs">60.00</text>
<text x="1647.7" y="583.0" font-size="13" fill="#131722" stroke="#131722" stroke-width="0.08" textLength="32.5" lengthAdjust="spacingAndGlyphs">40.00</text>
<path d="M1639 333.0H1698.6Q1701.1 333.0 1701.1 335.5V347.2Q1701.1 349.7 1698.6 349.7H1639Z" fill="#2e8b57"/>
<text x="1647.7" y="346.1" font-size="13" fill="#fff" stroke="#fff" stroke-width="0.08" textLength="47.3" lengthAdjust="spacingAndGlyphs">1.04307</text>
<path d="M1639 532.1H1683.5Q1686.0 532.1 1686.0 534.6V546.3000000000001Q1686.0 548.8000000000001 1683.5 548.8000000000001H1639Z" fill="#7e57c2"/>
<text x="1647.7" y="544.7" font-size="13" fill="#fff" stroke="#fff" stroke-width="0.08" textLength="32.3" lengthAdjust="spacingAndGlyphs">54.72</text>
<path d="M1639 667.0H1698.6Q1701.1 667.0 1701.1 669.5V681.4Q1701.1 683.9 1698.6 683.9H1639Z" fill="#2196f3"/>
<text x="1647.7" y="680.1" font-size="13" fill="#fff" stroke="#fff" stroke-width="0.08" textLength="47.4" lengthAdjust="spacingAndGlyphs">0.00232</text>
<text x="123.5" y="758.9" font-size="12.5" fill="#131722" stroke="#131722" stroke-width="0.22" text-anchor="middle">Apr</text>
<text x="263.5" y="758.9" font-size="12.5" fill="#131722" stroke="#131722" stroke-width="0.22" text-anchor="middle">May</text>
<text x="409.5" y="758.9" font-size="12.5" fill="#131722" stroke="#131722" stroke-width="0.22" text-anchor="middle">Jun</text>
<text x="536.5" y="758.9" font-size="12.5" fill="#131722" stroke="#131722" stroke-width="0.22" text-anchor="middle">Jul</text>
<text x="682.5" y="758.9" font-size="12.5" fill="#131722" stroke="#131722" stroke-width="0.22" text-anchor="middle">Aug</text>
<text x="822.5" y="758.9" font-size="12.5" fill="#131722" stroke="#131722" stroke-width="0.22" text-anchor="middle">Sep</text>
<text x="956.5" y="758.9" font-size="12.5" fill="#131722" stroke="#131722" stroke-width="0.22" text-anchor="middle">Oct</text>
<text x="1102.5" y="758.9" font-size="12.5" fill="#131722" stroke="#131722" stroke-width="0.22" text-anchor="middle">Nov</text>
<text x="1235.5" y="758.9" font-size="12.5" fill="#131722" stroke="#131722" stroke-width="0.22" text-anchor="middle">Dec</text>
<text x="1375.5" y="758.9" font-size="12.3" font-weight="bold" fill="#131722" text-anchor="middle" textLength="31" lengthAdjust="spacingAndGlyphs">2025</text>
<text x="1521.5" y="758.9" font-size="12.5" fill="#131722" stroke="#131722" stroke-width="0.22" text-anchor="middle">Feb</text>
<g transform="translate(9.9 778.25) scale(0.55 0.52)" fill="#131722"><path d="M14 22H7V11H0V4h14v18zM28 22h-8l7.5-18h8L28 22z"/><circle cx="20" cy="7.6" r="3.1"/></g>
<text x="33.2" y="790.75" font-size="13" fill="#131722" stroke="#131722" stroke-width="0.3" textLength="74.2" lengthAdjust="spacingAndGlyphs">TradingView</text>
</g>
<path d="M10.2 10.2H1713.2V767.9H10.2Z" fill="none" stroke="#e9ebf1" stroke-width="1.7" shape-rendering="geometricPrecision"/>
<rect x="10" y="171" width="1" height="16" fill="#2e8b57" fill-opacity="0.6"/>
</svg>
</body></html>
